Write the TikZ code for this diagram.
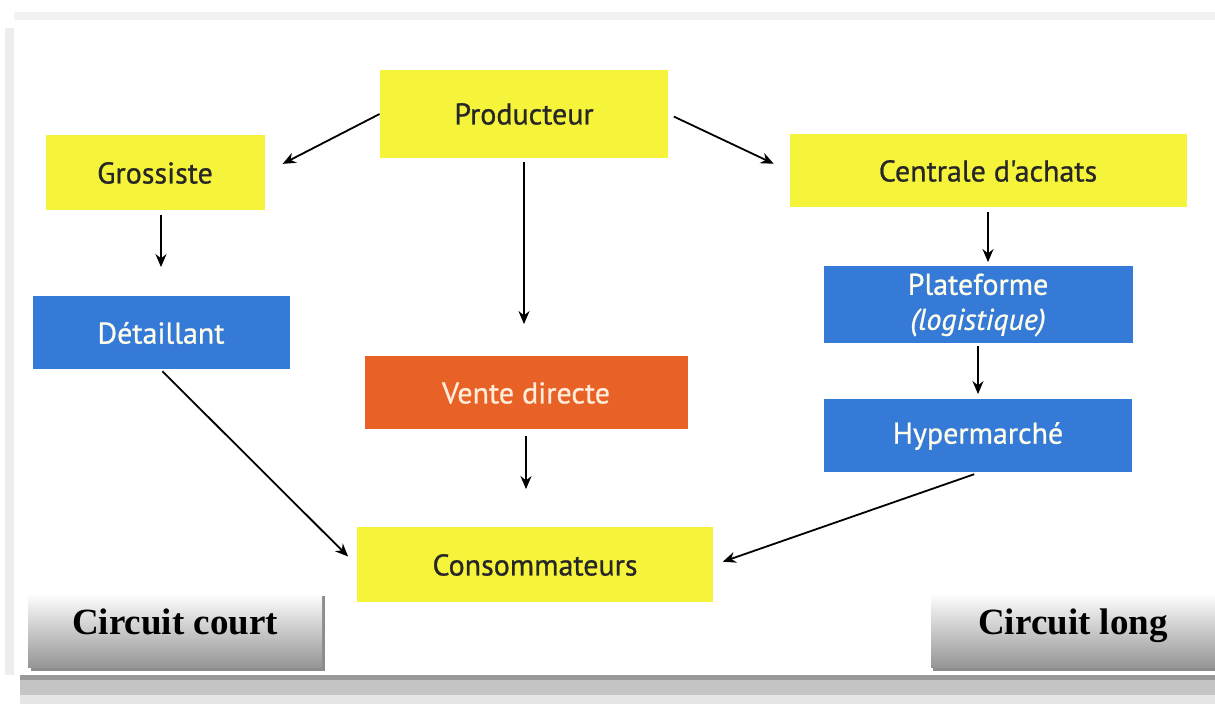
\documentclass[tikz,border=0pt]{standalone}
\usepackage{fontspec}
\setmainfont{Liberation Serif}
\newfontfamily\boxfont[FakeBold=0.8]{PT Sans}
\usetikzlibrary{arrows.meta}
\definecolor{jaune}{RGB}{246,244,58}
\definecolor{bleu}{RGB}{52,122,214}
\definecolor{orangevd}{RGB}{232,98,40}
\begin{document}
\begin{tikzpicture}[x=0.5pt,y=-0.5pt,
  boite/.style={rectangle,inner sep=0pt,align=center,font=\boxfont\fontsize{15}{17.5}\selectfont},
  jaunebox/.style={boite,fill=jaune,text=black!85},
  bleubox/.style={boite,fill=bleu,text=white!92!yellow},
  fleche/.style={-{Stealth[length=6.5pt,width=5.5pt]},line width=0.9pt},
  circuit/.style={rectangle,inner sep=0pt,top color=white,bottom color=black!42,text height=12pt,text depth=8pt,font=\bfseries\fontsize{18.5}{20}\selectfont}]
\fill[white] (0,0) rectangle (1215,704);
\useasboundingbox (0,0) rectangle (1215,704);
\fill[black!5] (14,12) rectangle (1215,20);
\fill[black!7] (5,28) rectangle (14,675);
\fill[black!40] (20,675) rectangle (1215,680);
\fill[black!23] (20,680) rectangle (1215,695);
\fill[black!10] (20,695) rectangle (1215,704);
% boites
\node[jaunebox,minimum width=144pt,minimum height=44pt] (prod) at (524,114) {Producteur};
\node[jaunebox,minimum width=109.5pt,minimum height=37.5pt] (gros) at (155,173) {Grossiste};
\node[jaunebox,minimum width=198.5pt,minimum height=36.5pt] (cent) at (988,171) {Centrale d'achats};
\node[bleubox,minimum width=128.5pt,minimum height=36.5pt] (det) at (161,333) {Détaillant};
\node[bleubox,minimum width=154.5pt,minimum height=38.5pt] (plat) at (978,305) {Plateforme\\\textit{(logistique)}};
\node[bleubox,minimum width=154pt,minimum height=36.5pt] (hyper) at (978,436) {Hypermarché};
\node[boite,fill=orangevd,text=white!85!orange,minimum width=161.5pt,minimum height=36.5pt] (vente) at (526,393) {Vente directe};
\node[jaunebox,minimum width=178pt,minimum height=37.5pt] (conso) at (535,565) {Consommateurs};
% fleches
\draw[fleche,shorten >=10pt] (prod.west) -- (gros.east);
\draw[fleche,shorten <=3pt,shorten >=8.5pt] (prod.east) -- (cent.west);
\draw[fleche,shorten <=2pt,shorten >=16pt] (prod.south) -- (prod.south |- vente.north);
\draw[fleche,shorten <=2pt,shorten >=14.5pt] (det.north |- gros.south) -- (det.north);
\draw[fleche,shorten <=3pt,shorten >=19pt] (vente.south) -- (vente.south |- conso.north);
\draw[fleche,shorten <=2pt,shorten >=2pt] (cent.south) -- (cent.south |- plat.north);
\draw[fleche,shorten <=1pt,shorten >=2.5pt] (plat.south) -- (hyper.north);
\draw[fleche,shorten <=1pt,shorten >=6pt] (det.south) -- (conso.west);
\draw[fleche,shorten <=2pt,shorten >=5pt] (hyper.south) -- (conso.east);
% circuits
\fill[black!45] (31,596) rectangle (325,671);
\node[circuit,minimum width=147pt,minimum height=37.5pt] (court) at (175,630.5) {Circuit court};
\fill[black!45] (933,596) rectangle (1215,671);
\node[circuit,minimum width=142pt,minimum height=37.5pt] (long) at (1073,630.5) {Circuit long};
\end{tikzpicture}
\end{document}
